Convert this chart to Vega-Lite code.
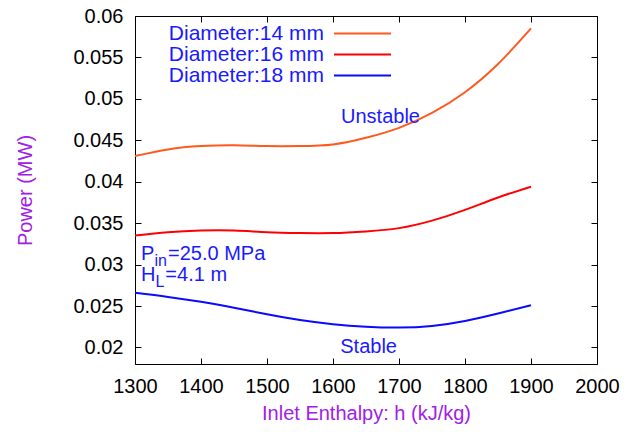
{
  "$schema": "https://vega.github.io/schema/vega-lite/v6.json",
  "width": 462,
  "height": 348,
  "autosize": "none",
  "padding": {"left": 135, "top": 16, "right": 37, "bottom": 68},
  "config": {
    "font": "Liberation Sans",
    "view": {"stroke": "black", "strokeWidth": 1},
    "axis": {"domain": false, "labelFontSize": 20, "labelColor": "black", "titleFontSize": 20, "titleFontWeight": "normal", "titleColor": "#a020e8", "labelOverlap": false, "labelFlush": false}
  },
  "datasets": {
    "curves": [
      {"h": 1300, "p": 0.0431, "series": "Diameter:14 mm"},
      {"h": 1350, "p": 0.0439, "series": "Diameter:14 mm"},
      {"h": 1400, "p": 0.0443, "series": "Diameter:14 mm"},
      {"h": 1450, "p": 0.0444, "series": "Diameter:14 mm"},
      {"h": 1500, "p": 0.0443, "series": "Diameter:14 mm"},
      {"h": 1550, "p": 0.0443, "series": "Diameter:14 mm"},
      {"h": 1600, "p": 0.0445, "series": "Diameter:14 mm"},
      {"h": 1650, "p": 0.0453, "series": "Diameter:14 mm"},
      {"h": 1700, "p": 0.0465, "series": "Diameter:14 mm"},
      {"h": 1750, "p": 0.0483, "series": "Diameter:14 mm"},
      {"h": 1800, "p": 0.0508, "series": "Diameter:14 mm"},
      {"h": 1850, "p": 0.0542, "series": "Diameter:14 mm"},
      {"h": 1900, "p": 0.0585, "series": "Diameter:14 mm"},
      {"h": 1300, "p": 0.0335, "series": "Diameter:16 mm"},
      {"h": 1350, "p": 0.0339, "series": "Diameter:16 mm"},
      {"h": 1400, "p": 0.0341, "series": "Diameter:16 mm"},
      {"h": 1450, "p": 0.0341, "series": "Diameter:16 mm"},
      {"h": 1500, "p": 0.0339, "series": "Diameter:16 mm"},
      {"h": 1550, "p": 0.0338, "series": "Diameter:16 mm"},
      {"h": 1600, "p": 0.0338, "series": "Diameter:16 mm"},
      {"h": 1650, "p": 0.0340, "series": "Diameter:16 mm"},
      {"h": 1700, "p": 0.0344, "series": "Diameter:16 mm"},
      {"h": 1750, "p": 0.0353, "series": "Diameter:16 mm"},
      {"h": 1800, "p": 0.0366, "series": "Diameter:16 mm"},
      {"h": 1850, "p": 0.0381, "series": "Diameter:16 mm"},
      {"h": 1900, "p": 0.0394, "series": "Diameter:16 mm"},
      {"h": 1300, "p": 0.0266, "series": "Diameter:18 mm"},
      {"h": 1350, "p": 0.0261, "series": "Diameter:18 mm"},
      {"h": 1400, "p": 0.0255, "series": "Diameter:18 mm"},
      {"h": 1450, "p": 0.0248, "series": "Diameter:18 mm"},
      {"h": 1500, "p": 0.0240, "series": "Diameter:18 mm"},
      {"h": 1550, "p": 0.0233, "series": "Diameter:18 mm"},
      {"h": 1600, "p": 0.0228, "series": "Diameter:18 mm"},
      {"h": 1650, "p": 0.0225, "series": "Diameter:18 mm"},
      {"h": 1700, "p": 0.0224, "series": "Diameter:18 mm"},
      {"h": 1750, "p": 0.0226, "series": "Diameter:18 mm"},
      {"h": 1800, "p": 0.0232, "series": "Diameter:18 mm"},
      {"h": 1850, "p": 0.0241, "series": "Diameter:18 mm"},
      {"h": 1900, "p": 0.0251, "series": "Diameter:18 mm"}
    ],
    "regions": [
      {"h": 1672, "p": 0.04705, "label": "Unstable"},
      {"h": 1654, "p": 0.01928, "label": "Stable"}
    ],
    "mainText": [
      {"h": 1309, "p": 0.03052, "label": "P"},
      {"h": 1309, "p": 0.02799, "label": "H"}
    ],
    "subText": [
      {"h": 1329.5, "p": 0.02980, "label": "in"},
      {"h": 1331, "p": 0.02727, "label": "L"}
    ],
    "restText": [
      {"h": 1350, "p": 0.03052, "label": "=25.0 MPa"},
      {"h": 1346, "p": 0.02799, "label": "=4.1 m"}
    ]
  },
  "layer": [
    {
      "data": {"name": "curves"},
      "mark": {"type": "line", "interpolate": "natural", "strokeWidth": 2},
      "encoding": {
        "x": {"field": "h", "type": "quantitative", "scale": {"domain": [1300, 2000], "nice": false, "zero": false},
          "axis": {"orient": "bottom", "values": [1300, 1400, 1500, 1600, 1700, 1800, 1900, 2000], "format": "d",
            "ticks": false, "grid": true, "gridColor": "black", "gridWidth": 1, "gridOpacity": 1, "gridDash": [6, 336],
            "labelPadding": 12, "title": "Inlet Enthalpy: h (kJ/kg)", "titleY": 55, "titleBaseline": "alphabetic"}},
        "y": {"field": "p", "type": "quantitative", "scale": {"domain": [0.018, 0.06], "nice": false, "zero": false},
          "axis": {"orient": "left", "values": [0.02, 0.025, 0.03, 0.035, 0.04, 0.045, 0.05, 0.055, 0.06], "format": "~g",
            "ticks": false, "grid": true, "gridColor": "black", "gridWidth": 1, "gridOpacity": 1, "gridDash": [6, 450],
            "labelPadding": 12, "title": "Power (MW)", "titleX": -110, "titleY": 174, "titleAngle": -90, "titleAlign": "center", "titleBaseline": "middle"}},
        "color": {"field": "series", "type": "nominal",
          "scale": {"domain": ["Diameter:14 mm", "Diameter:16 mm", "Diameter:18 mm"], "range": ["#ff5a1e", "#ff0000", "#0a0aff"]},
          "legend": {"title": null, "orient": "none", "legendX": 217, "legendY": 7, "direction": "vertical", "padding": 0, "symbolType": "M-5,0L5,0", "symbolSize": 130, "symbolStrokeWidth": 2, "labelAlign": "right", "labelOffset": -49, "labelFontSize": 21, "labelColor": "#1a1aff", "labelLimit": 300, "rowPadding": -1}}
      }
    },
    {
      "data": {"name": "regions"},
      "mark": {"type": "text", "align": "center", "baseline": "alphabetic", "fontSize": 20, "color": "#1a1aff"},
      "encoding": {
        "x": {"field": "h", "type": "quantitative"},
        "y": {"field": "p", "type": "quantitative"},
        "text": {"field": "label"}
      }
    },
    {
      "data": {"name": "mainText"},
      "mark": {"type": "text", "align": "left", "baseline": "alphabetic", "fontSize": 20, "color": "#1a1aff"},
      "encoding": {
        "x": {"field": "h", "type": "quantitative"},
        "y": {"field": "p", "type": "quantitative"},
        "text": {"field": "label"}
      }
    },
    {
      "data": {"name": "subText"},
      "mark": {"type": "text", "align": "left", "baseline": "alphabetic", "fontSize": 16, "color": "#1a1aff"},
      "encoding": {
        "x": {"field": "h", "type": "quantitative"},
        "y": {"field": "p", "type": "quantitative"},
        "text": {"field": "label"}
      }
    },
    {
      "data": {"name": "restText"},
      "mark": {"type": "text", "align": "left", "baseline": "alphabetic", "fontSize": 20, "color": "#1a1aff"},
      "encoding": {
        "x": {"field": "h", "type": "quantitative"},
        "y": {"field": "p", "type": "quantitative"},
        "text": {"field": "label"}
      }
    }
  ]
}
